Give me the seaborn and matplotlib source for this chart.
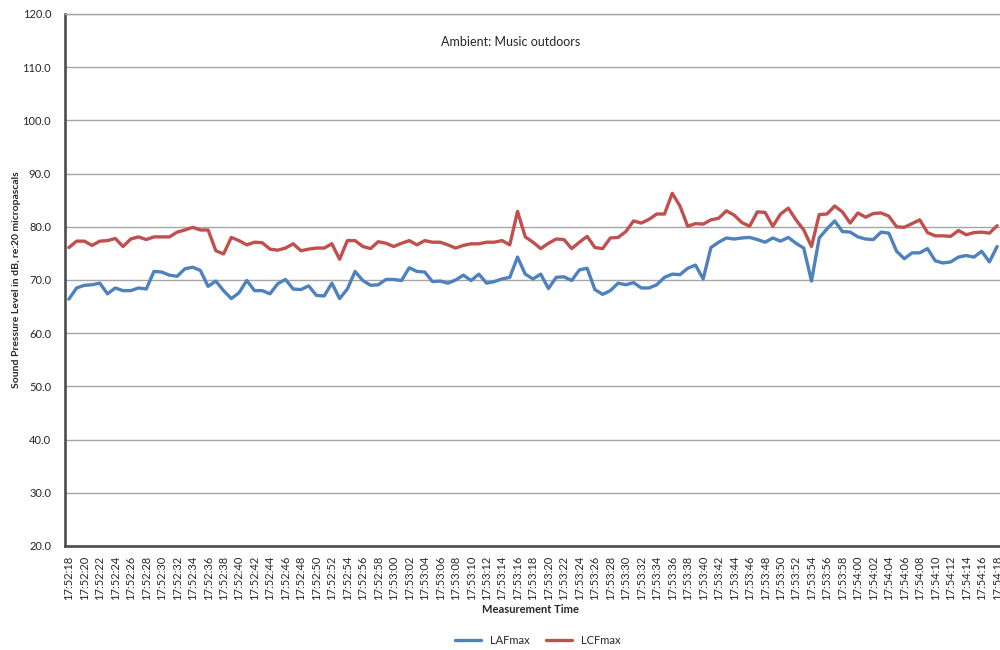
"""Sound level trace: LAFmax vs LCFmax, ambient music outdoors."""

import matplotlib
matplotlib.use("Agg")
import matplotlib.pyplot as plt
import pandas as pd
import seaborn as sns

# one reading per second, 17:52:18 .. 17:54:18
TIMES = pd.date_range("2000-01-01 17:52:18", periods=121, freq="s").strftime("%H:%M:%S").tolist()

LAFMAX = [
    66.4, 68.5, 69.0, 69.1, 69.4, 67.4, 68.5, 68.0, 68.0, 68.5,
    68.3, 71.6, 71.5, 70.9, 70.7, 72.1, 72.4, 71.8, 68.8, 69.8,
    68.0, 66.5, 67.6, 69.9, 68.0, 68.0, 67.4, 69.3, 70.1, 68.3,
    68.2, 68.9, 67.1, 67.0, 69.4, 66.5, 68.3, 71.6, 69.9, 69.0,
    69.1, 70.1, 70.1, 69.9, 72.3, 71.6, 71.5, 69.7, 69.8, 69.4,
    70.0, 70.9, 69.9, 71.1, 69.4, 69.7, 70.2, 70.5, 74.3, 71.1,
    70.2, 71.1, 68.4, 70.5, 70.6, 69.9, 71.9, 72.2, 68.2, 67.3,
    68.0, 69.4, 69.1, 69.5, 68.5, 68.5, 69.1, 70.5, 71.1, 71.0,
    72.2, 72.8, 70.2, 76.1, 77.1, 77.9, 77.7, 77.9, 78.0, 77.6,
    77.1, 77.9, 77.3, 78.0, 76.9, 76.0, 69.8, 77.9, 79.6, 81.1,
    79.1, 79.0, 78.1, 77.7, 77.6, 79.0, 78.8, 75.4, 74.0, 75.1,
    75.1, 75.9, 73.6, 73.2, 73.4, 74.3, 74.6, 74.3, 75.4, 73.4,
    76.3,
]

LCFMAX = [
    76.1, 77.3, 77.3, 76.5, 77.3, 77.4, 77.8, 76.3, 77.7, 78.1,
    77.6, 78.1, 78.1, 78.1, 79.0, 79.4, 79.9, 79.4, 79.4, 75.5,
    74.9, 78.0, 77.4, 76.6, 77.1, 77.0, 75.8, 75.6, 76.0, 76.8,
    75.5, 75.8, 76.0, 76.0, 76.8, 73.9, 77.4, 77.4, 76.3, 75.9,
    77.2, 76.9, 76.3, 76.9, 77.4, 76.6, 77.4, 77.1, 77.1, 76.6,
    76.0, 76.5, 76.8, 76.8, 77.1, 77.1, 77.4, 76.6, 82.9, 78.1,
    77.1, 75.9, 76.9, 77.7, 77.6, 75.9, 77.1, 78.2, 76.1, 75.9,
    77.9, 78.0, 79.1, 81.1, 80.7, 81.4, 82.4, 82.4, 86.3, 83.9,
    80.1, 80.6, 80.5, 81.3, 81.6, 83.0, 82.2, 80.8, 80.1, 82.8,
    82.7, 80.1, 82.4, 83.5, 81.3, 79.4, 76.3, 82.3, 82.4, 83.9,
    82.8, 80.7, 82.6, 81.8, 82.5, 82.6, 82.0, 80.0, 79.9, 80.6,
    81.3, 78.9, 78.3, 78.3, 78.2, 79.3, 78.5, 78.9, 79.0, 78.8,
    80.2,
]

PALETTE = {"LAFmax": "#4F81BD", "LCFmax": "#C0504D"}


def main() -> None:
    sns.set_style("white")
    plt.rcParams["font.family"] = ["Lato", "DejaVu Sans"]

    df = pd.DataFrame({"time": TIMES, "LAFmax": LAFMAX, "LCFmax": LCFMAX})
    df["pos"] = range(len(df))
    long_df = df.melt(id_vars=["time", "pos"], var_name="metric", value_name="level")

    fig = plt.figure(figsize=(10, 6.5), dpi=100)
    ax = fig.add_axes([0.065, 0.16, 0.936, 0.8185])

    sns.lineplot(
        data=long_df,
        x="pos",
        y="level",
        hue="metric",
        palette=PALETTE,
        linewidth=2.4,
        ax=ax,
    )

    ax.set_ylim(20, 120)
    ax.set_yticks(range(20, 121, 10))
    ax.set_yticklabels([f"{v:.1f}" for v in range(20, 121, 10)], fontsize=8)
    ax.set_xlim(-0.5, len(TIMES) - 0.5)
    ax.set_xticks(range(0, len(TIMES), 2))
    ax.set_xticklabels(TIMES[::2], rotation=90, fontsize=8)

    ax.grid(axis="y", color="#a6a6a6", linewidth=1.0)
    ax.set_axisbelow(True)
    for side in ("left", "bottom"):
        ax.spines[side].set_color("#4d4d4d")
        ax.spines[side].set_linewidth(1.9)
    ax.spines["top"].set_color("#a6a6a6")
    ax.spines["top"].set_linewidth(1.0)
    ax.spines["right"].set_visible(False)
    ax.tick_params(axis="y", length=4, color="#595959", pad=6)
    ax.tick_params(axis="x", length=4, color="#595959", pad=3)

    ax.set_xlabel("Measurement Time", fontsize=8, fontweight="bold")
    ax.xaxis.set_label_coords(0.497, -0.109)
    ax.set_ylabel("Sound Pressure Level in dB, re:20 micropascals", fontsize=7.5, fontweight="bold")
    ax.yaxis.set_label_coords(-0.047, 0.5)

    ax.text(0.476, 0.947, "Ambient: Music outdoors", transform=ax.transAxes,
            ha="center", va="center", fontsize=9)

    sns.move_legend(
        ax, "center", bbox_to_anchor=(0.505, -0.177), ncol=2, frameon=False,
        title=None, fontsize=8, handlelength=2.3, columnspacing=1.5,
    )

    fig.savefig("out.png", dpi=100)
    plt.close(fig)


if __name__ == "__main__":
    main()
